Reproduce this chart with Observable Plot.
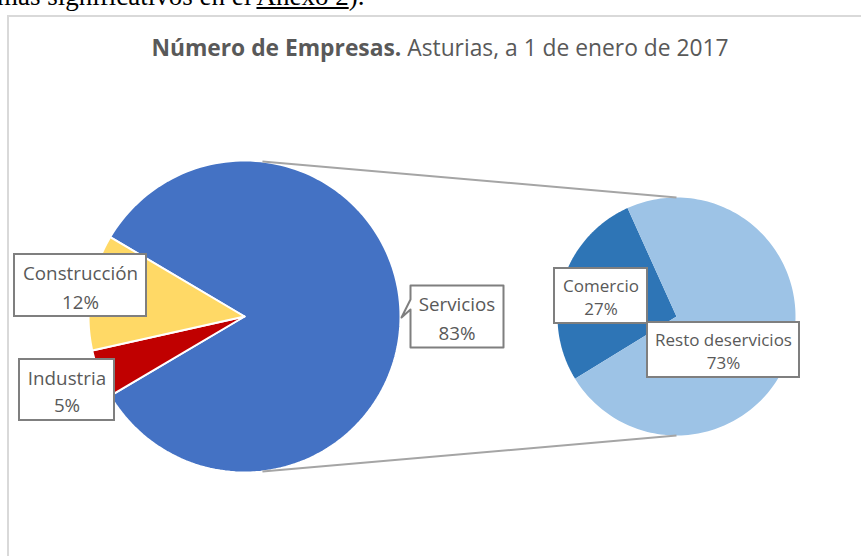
<!DOCTYPE html>
<html><head><meta charset="utf-8">
<script src="https://cdn.jsdelivr.net/npm/d3@7"></script>
<script src="https://cdn.jsdelivr.net/npm/@observablehq/plot@0.6"></script>
<style>
body{margin:0;background:#fff;}
#page{position:relative;width:861px;height:556px;overflow:hidden;background:#fff;}
#doc{position:absolute;left:-3px;top:-17px;font-family:"Liberation Serif",serif;font-size:27px;line-height:27px;color:#000;white-space:nowrap;}
#frame{position:absolute;left:7px;top:15px;width:900px;height:600px;border:2px solid #d9d9d9;box-sizing:border-box;}
#title{position:absolute;left:0;width:880px;top:33px;text-align:center;font-family:"Open Sans",sans-serif;font-size:22.8px;line-height:30px;color:#595959;white-space:nowrap;}
#chart{position:absolute;left:0;top:0;}
</style></head>
<body><div id="page">
<div id="doc">mas significativos en el <u>Anexo 2</u>).</div>
<div id="frame"></div>
<div id="chart"></div>
<div id="title"><b>Número de Empresas.</b> Asturias, a 1 de enero de 2017</div>
</div>
<script>
// ---- data ----
const mainCategories = ["Servicios", "Industria", "Construcción"];
const mainValues = [83, 5, 12];
const mainColors = ["#4472c4", "#c00000", "#ffd966"];
const subCategories = ["Comercio", "Resto deservicios"];
const subValues = [27, 73];
const subColors = ["#2e75b6", "#9dc3e6"];

// ---- layout ----
const W = 861, H = 556;
const mainPie = {cx: 244, cy: 316, r: 156};
const subPie = {cx: 676, cy: 316, r: 119, startDeg: -121.5};
const connectorDeg = [6.6, 173.4];
const labelBoxes = {
  "Construcción": {x1: 14, x2: 146, y1: 254, y2: 316, lh: 1.5, fs: 18.8},
  "Industria": {x1: 19, x2: 114, y1: 359, y2: 420, lh: 1.45, fs: 18.8},
  "Servicios": {x1: 410, x2: 503, y1: 285, y2: 347, lh: 1.5, fs: 18.8, pointer: {tipX: 401, tipY: 317, b1: 299, b2: 309}},
  "Comercio": {x1: 554, x2: 647, y1: 268, y2: 323, lh: 1.35, fs: 17},
  "Resto deservicios": {x1: 647, x2: 799, y1: 322, y2: 377, lh: 1.35, fs: 17}
};

const rad = d => d * Math.PI / 180;
const sumMain = d3.sum(mainValues);
const mainStart = rad(90 - (mainValues[0] / sumMain) * 180);

function wedges(cats, vals, geo, start) {
  const arcs = d3.pie().sort(null).startAngle(start).endAngle(start + 2 * Math.PI)(vals);
  return arcs.map((a, i) => {
    const pts = [{x: geo.cx, y: geo.cy}];
    const n = 160;
    for (let k = 0; k <= n; k++) {
      const t = a.startAngle + (a.endAngle - a.startAngle) * k / n;
      pts.push({x: geo.cx + geo.r * Math.sin(t), y: geo.cy - geo.r * Math.cos(t)});
    }
    pts.push({x: geo.cx, y: geo.cy});
    return {cat: cats[i], value: vals[i], pts};
  });
}

const mainW = wedges(mainCategories, mainValues, mainPie, mainStart);
const subW = wedges(subCategories, subValues, subPie, rad(subPie.startDeg));

const connectors = connectorDeg.map((deg, i) => ({
  x1: mainPie.cx + mainPie.r * Math.sin(rad(deg)),
  y1: mainPie.cy - mainPie.r * Math.cos(rad(deg)),
  x2: subPie.cx,
  y2: i === 0 ? subPie.cy - subPie.r : subPie.cy + subPie.r
}));

const labels = [...mainCategories.map((c, i) => ({cat: c, value: mainValues[i]})),
                ...subCategories.map((c, i) => ({cat: c, value: subValues[i]}))]
  .map(d => ({...d, ...labelBoxes[d.cat], text: `${d.cat}\n${d.value}%`}));

const marks = [];
mainW.forEach((w, i) => marks.push(Plot.line(w.pts, {x: "x", y: "y", fill: mainColors[i], stroke: "white", strokeWidth: 2, strokeLinejoin: "round", curve: "linear"})));
subW.forEach((w, i) => marks.push(Plot.line(w.pts, {x: "x", y: "y", fill: subColors[i], stroke: "none", curve: "linear"})));
marks.push(Plot.link(connectors, {x1: "x1", y1: "y1", x2: "x2", y2: "y2", stroke: "#a5a5a5", strokeWidth: 2}));

labels.forEach(d => {
  if (d.pointer) {
    const p = d.pointer;
    const poly = [
      {x: d.x1, y: d.y1}, {x: d.x2, y: d.y1}, {x: d.x2, y: d.y2}, {x: d.x1, y: d.y2},
      {x: d.x1, y: p.b2}, {x: p.tipX, y: p.tipY}, {x: d.x1, y: p.b1}, {x: d.x1, y: d.y1}
    ];
    marks.push(Plot.line(poly, {x: "x", y: "y", fill: "white", stroke: "#7f7f7f", strokeWidth: 2, curve: "linear"}));
  } else {
    marks.push(Plot.rect([d], {x1: "x1", x2: "x2", y1: "y1", y2: "y2", fill: "white", stroke: "#7f7f7f", strokeWidth: 2}));
  }
  marks.push(Plot.text([d], {x: dd => (dd.x1 + dd.x2) / 2, y: dd => (dd.y1 + dd.y2) / 2, text: "text", lineHeight: d.lh, fill: "#595959", fontSize: d.fs, textAnchor: "middle", lineAnchor: "middle"}));
});

const chart = Plot.plot({
  width: W, height: H, margin: 0,
  x: {domain: [0, W], range: [0, W], axis: null},
  y: {domain: [0, H], range: [0, H], axis: null},
  style: {background: "transparent", fontFamily: "'Open Sans', sans-serif", overflow: "visible"},
  marks
});
document.getElementById("chart").appendChild(chart);
</script>
</body></html>
